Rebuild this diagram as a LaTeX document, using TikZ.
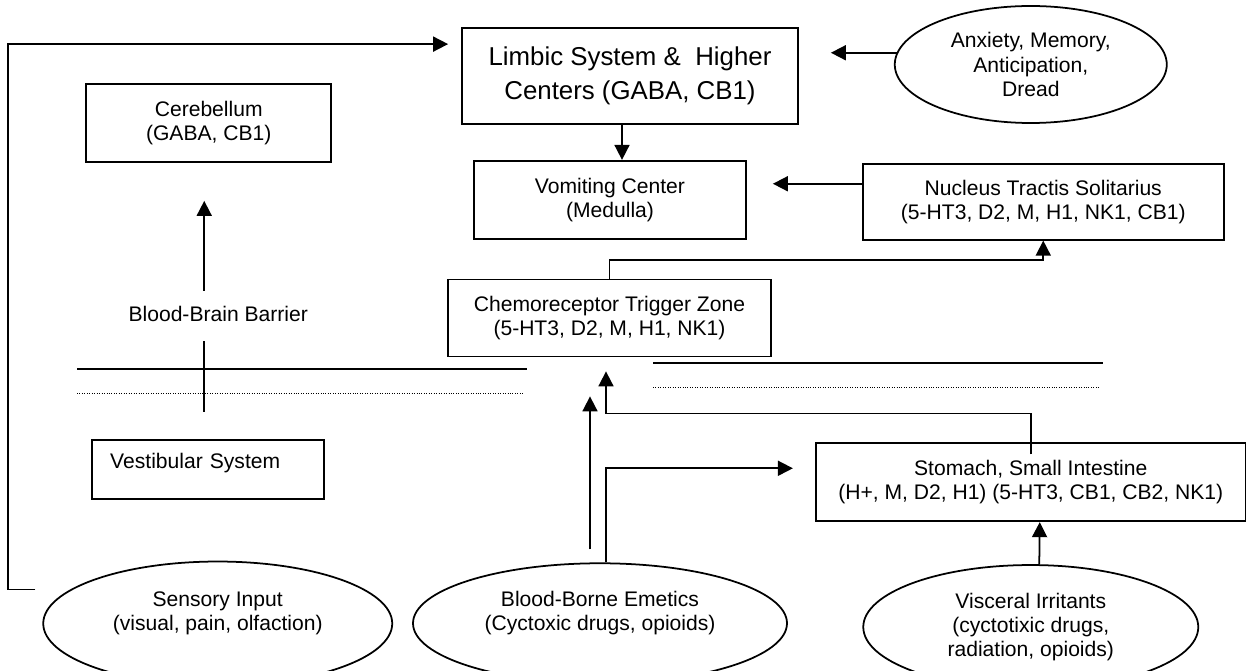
\documentclass[tikz,border=0pt]{standalone}
\usepackage{fontspec}
\setmainfont{Liberation Sans}
\usetikzlibrary{positioning, arrows.meta, calc, shapes.geometric}

\begin{document}
\begin{tikzpicture}[
    x=0.2mm, y=-0.2mm, % one unit = one pixel of the layout, y grows downwards
    line width=1pt,
    box/.style={draw, align=center, inner sep=0pt, font=\fontsize{12}{13.7}\selectfont},
    bigbox/.style={box, font=\fontsize{14.7}{19.3}\selectfont},
    oval/.style={draw, ellipse, align=center, inner sep=0pt, font=\fontsize{12}{13.7}\selectfont},
    labelstyle/.style={font=\fontsize{12}{13.7}\selectfont},
    arrow/.style={-{Triangle[length=3mm, width=3mm]}},
    dotline/.style={line width=0.5pt, dash pattern=on 0.5pt off 0.9pt}
]
\useasboundingbox (0,0) rectangle (1246,671);

% Higher centres
\node (limbic) [bigbox, minimum width=67.2mm, minimum height=19.2mm] at (630,76) {Limbic System \&\ \ Higher\\Centers (GABA, CB1)};
\node (anxiety) [oval, minimum width=54.4mm, minimum height=23.4mm, right=19mm of limbic.east, anchor=west, yshift=2.3mm] {Anxiety, Memory,\\Anticipation,\\Dread};
\node (cerebellum) [box, minimum width=49mm, minimum height=15.6mm, left=25.8mm of limbic.north west, anchor=north east, yshift=-11.2mm] {Cerebellum\\(GABA, CB1)};

% Medulla
\node (vomiting) [box, minimum width=54.4mm, minimum height=15.6mm, below=7mm of limbic.south west, anchor=north west, xshift=2.4mm] {Vomiting Center\\(Medulla)};
\node (nucleus) [box, minimum width=72.2mm, minimum height=15.2mm, right=23mm of vomiting.north east, anchor=north west, yshift=-0.6mm] {Nucleus Tractis Solitarius\\(5-HT3, D2, M, H1, NK1, CB1)};
\node (ctz) [box, minimum width=64.6mm, minimum height=15.4mm, below=7.8mm of vomiting.south west, anchor=north west, xshift=-5.2mm] {Chemoreceptor Trigger Zone\\(5-HT3, D2, M, H1, NK1)};

% Blood-brain barrier
\node (bbb_label) [labelstyle, below=30.2mm of cerebellum.south, anchor=center, xshift=1.9mm] {Blood-Brain Barrier};
\draw (77,369) -- (527,369);
\draw[dotline] (77,393) -- (523,393);
\draw (653,363) -- (1103,363);
\draw[dotline] (653,387) -- (1099,387);

% Periphery
\node (vestibular) [box, align=left, text width=39.2mm, inner xsep=3.6mm, text depth=3.3mm, minimum height=11.8mm, below=55.2mm of cerebellum.south west, anchor=north west, xshift=1.2mm] {Vestibular System};
\node (stomach) [box, minimum width=86mm, minimum height=15.6mm, below=17mm of ctz.south east, anchor=north west, xshift=8.6mm] {Stomach, Small Intestine\\(H+, M, D2, H1) (5-HT3, CB1, CB2, NK1)};

% Stimuli
\node (sensory) [oval, minimum width=69.8mm, minimum height=24.8mm, below=12.2mm of vestibular.south, anchor=north, xshift=1.9mm] {Sensory Input\\(visual, pain, olfaction)\\\mbox{}};
\node (blood) [oval, minimum width=74.8mm, minimum height=24mm, below=41mm of ctz.south, anchor=north, xshift=-1.9mm] {Blood-Borne Emetics\\(Cyctoxic drugs, opioids)\\\mbox{}};
\node (visceral) [oval, minimum width=67mm, minimum height=24.8mm, below=8.4mm of stomach.south, anchor=north] {Visceral Irritants\\(cyctotixic drugs,\\radiation, opioids)};

% Arrows
\coordinate (loop_start) at ([shift={(-1.4mm,6.8mm)}]sensory.west);
\coordinate (loop_end) at ([shift={(-2.6mm,-3.4mm)}]limbic.north west);
\draw[arrow] (loop_start) -- ++(-5.4mm,0) |- (loop_end);
\draw[arrow, shorten >=6.4mm] (anxiety.175) -- (anxiety.175 -| limbic.east);
\draw[arrow] ([xshift=-1.6mm]limbic.south) -- ([xshift=2.4mm]vomiting.north);
\coordinate (nts_out) at ([yshift=3.6mm]nucleus.west);
\draw[arrow, shorten >=5.2mm] (nts_out) -- (nts_out -| vomiting.east);
\draw[arrow] (ctz.north) -- ++(0,3.8mm) -| (nucleus.south);

\draw ([xshift=-0.8mm, yshift=5.4mm]vestibular.north) -- ([xshift=-0.8mm, yshift=19.6mm]vestibular.north);
\draw[arrow] ([xshift=-0.9mm, yshift=-25.6mm]cerebellum.south) -- ([xshift=-0.9mm, yshift=-7.6mm]cerebellum.south);

\draw[arrow] ([xshift=-2mm, yshift=2.6mm]blood.north) -- ([xshift=-3.9mm, yshift=-7.8mm]ctz.south);
\coordinate (stomach_in) at ([yshift=2.8mm]stomach.west);
\draw[arrow, shorten >=4.4mm] ([xshift=1.2mm]blood.north) |- (stomach_in);
\draw[arrow] ([yshift=-2.4mm]stomach.north) -- ++(0,8.2mm) -| ([xshift=-0.7mm, yshift=-2.8mm]ctz.south);
\draw[arrow] ([xshift=1.7mm]visceral.north) -- ([xshift=1.8mm]stomach.south);

\end{tikzpicture}
\end{document}
